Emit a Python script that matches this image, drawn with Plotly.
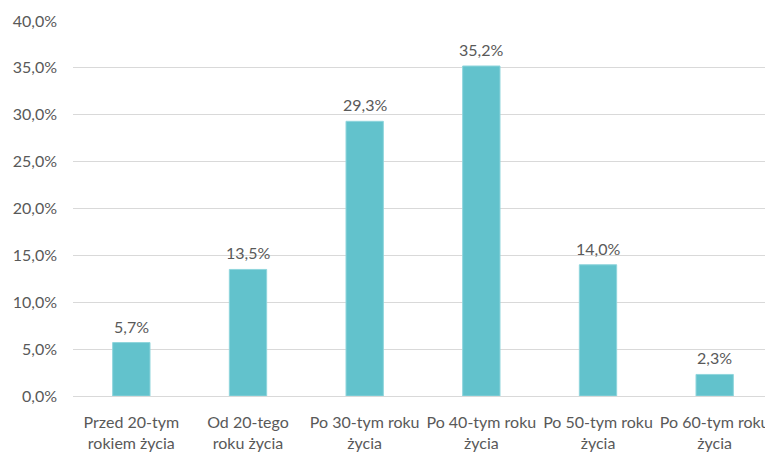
import plotly.graph_objects as go

categories = ["Przed 20-tym<br>rokiem życia", "Od 20-tego<br>roku życia", "Po 30-tym roku<br>życia",
              "Po 40-tym roku<br>życia", "Po 50-tym roku<br>życia", "Po 60-tym roku<br>życia"]
values = [5.7, 13.5, 29.3, 35.2, 14.0, 2.3]
labels = [f"{v:.1f}%".replace(".", ",") for v in values]

fig = go.Figure(go.Bar(
    x=categories, y=values,
    marker=dict(color="#62C2CC", line=dict(color="#8fd5dc", width=1)),
    cliponaxis=False, width=0.32, hoverinfo="x+y",
))
for c, v, t in zip(categories, values, labels):
    fig.add_annotation(x=c, y=v, text=t, showarrow=False, yanchor="bottom", yshift=5,
                       font=dict(family="Lato", size=16, color="#595959"))
fig.update_layout(
    width=765, height=444,
    margin=dict(l=65, r=0, t=13, b=52),
    plot_bgcolor="white", paper_bgcolor="white",
    separators=",.",
    font=dict(family="Lato", size=16, color="#595959"),
    showlegend=False,
    xaxis=dict(showgrid=False, showline=True, linecolor="#d9d9d9", linewidth=1,
               ticks="", ticklabelstandoff=12, tickfont=dict(size=16)),
    yaxis=dict(range=[0, 40], dtick=5, tickformat=".1f", ticksuffix="%",
               showgrid=True, gridcolor="#d9d9d9", gridwidth=1, zeroline=False,
               ticks="", ticklabelstandoff=15, tickfont=dict(size=16)),
)
fig.write_html("out.html")
